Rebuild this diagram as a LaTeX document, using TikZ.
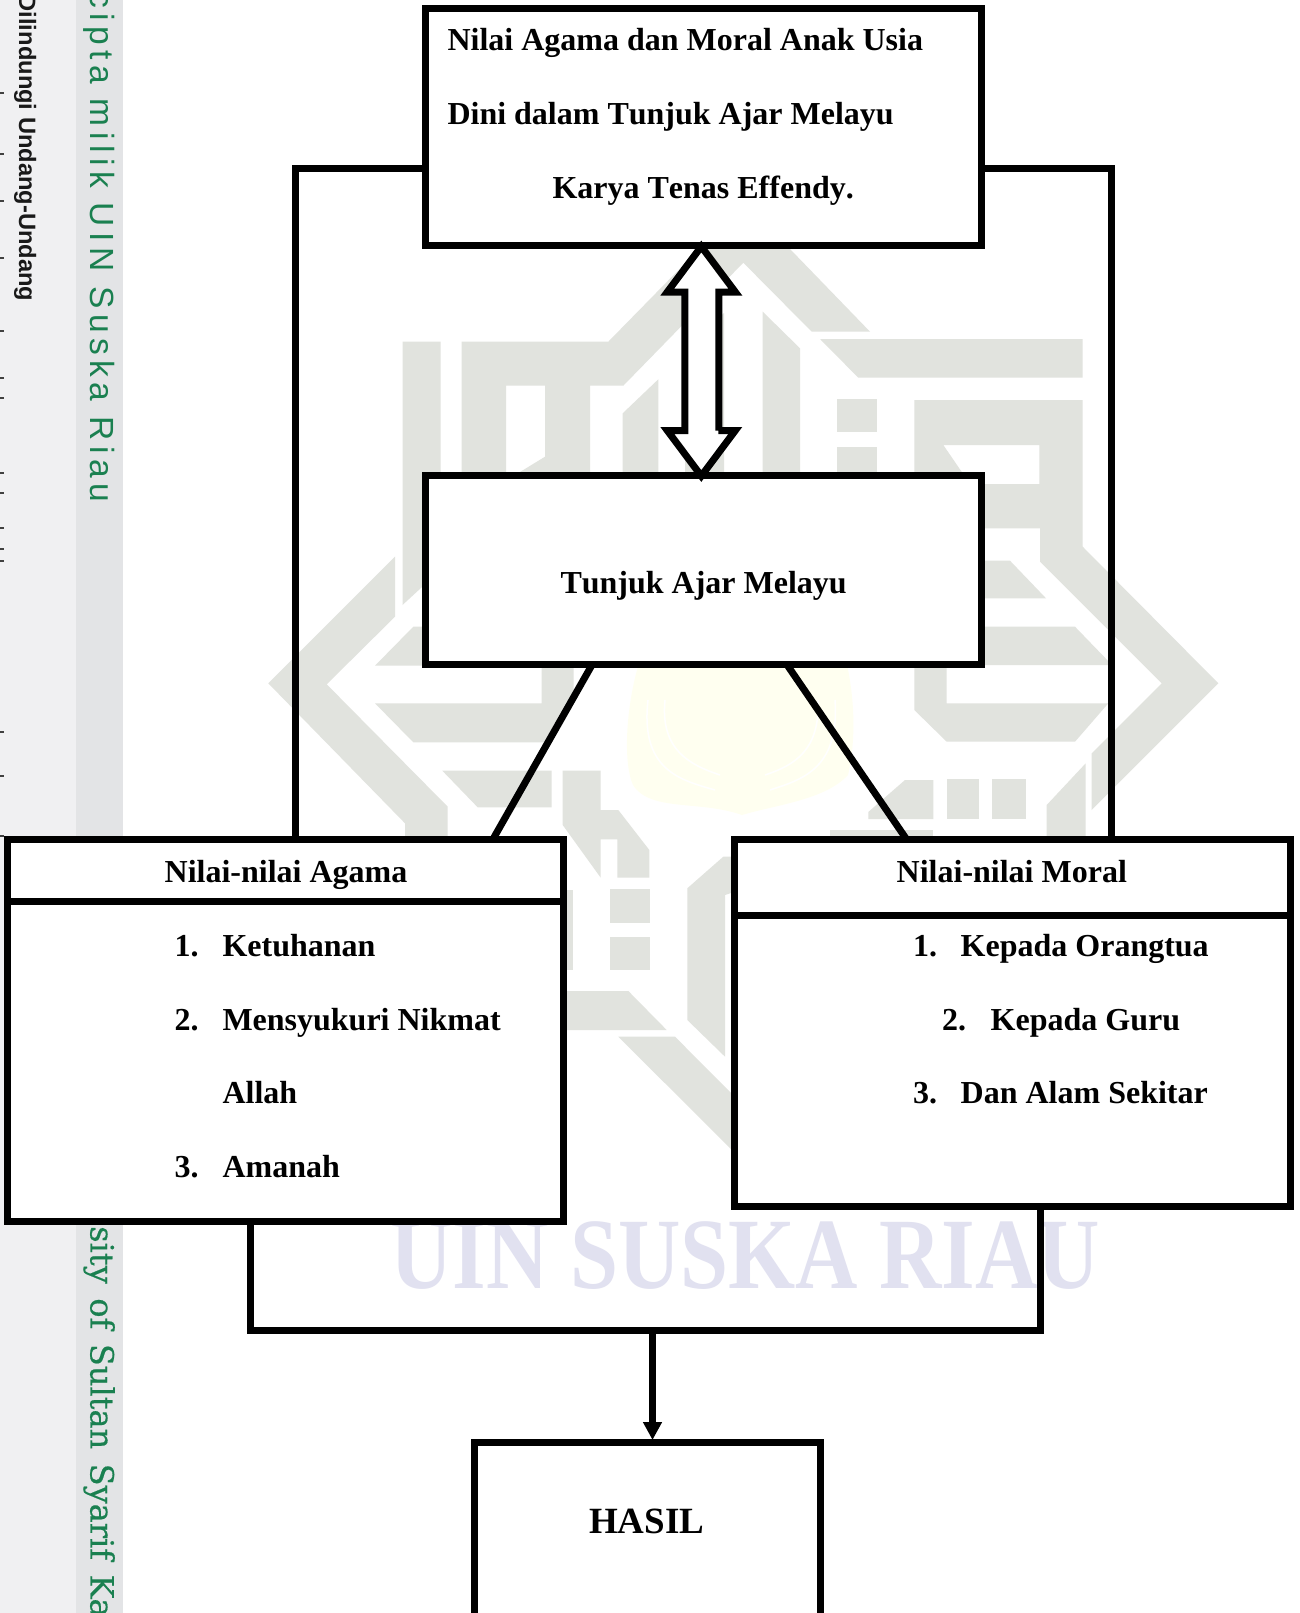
\documentclass[tikz,border=0pt]{standalone}
\usepackage{fontspec}
\setmainfont[Kerning=Off]{Liberation Serif}
\newfontfamily\wmsans{Liberation Sans}
\newfontfamily\wmserif{DejaVu Serif}
\usetikzlibrary{calc,arrows.meta}
\definecolor{wmgrey}{HTML}{E1E3DE}
\definecolor{wmyellow}{HTML}{FFFFF0}
\definecolor{wmlav}{HTML}{E1E1F0}
\definecolor{wmgreen}{HTML}{1A8050}
\definecolor{stripa}{HTML}{F0F0F2}
\definecolor{stripb}{HTML}{E3E4E6}
\tikzset{
  boxnode/.style={draw=black,fill=white,line width=7pt,inner sep=0pt,outer sep=0pt,miter limit=10},
  conn/.style={draw=black,line width=7pt,line join=miter},
  lbl/.style={anchor=base west,inner sep=0pt,outer sep=0pt,font=\fontsize{32}{36}\selectfont\bfseries},
  wm/.style={fill=wmgrey,draw=none},
}
\begin{document}
\begin{tikzpicture}[x=1pt,y=-1pt]
\clip (0,0) rectangle (1299,1613);
\useasboundingbox (0,0) rectangle (1299,1613);
\fill[white] (0,0) rectangle (1299,1613);
% side strip
\fill[stripa] (0,0) rectangle (76,1613);
\fill[stripb] (76,0) rectangle (122.5,1613);
\foreach \yy in {92,153,200,257,330,377,397,472,492,527,548,560,731,775,835}
  \fill[black!75] (0,\yy) rectangle (3.5,\yy+2);
\node[rotate=-90,anchor=base west,inner sep=0pt,font=\wmsans\bfseries\fontsize{23.7}{26}\selectfont,text=black!90] (sidea) at (19,-5.5) {Dilindungi Undang-Undang};
\node[rotate=-90,anchor=base west,inner sep=0pt,font=\wmsans\fontsize{33.5}{36}\selectfont\addfontfeature{LetterSpace=16.5},text=wmgreen] (sideb) at (90.5,-9) {cipta milik UIN Suska Riau};
\node[rotate=-90,anchor=base west,inner sep=0pt,font=\wmserif\fontsize{32}{36}\selectfont\addfontfeature{FakeBold=0.5},text=wmgreen] (sidec) at (90.5,1226) {\spaceskip=14.5pt sity of Sultan Syarif Ka};
% watermark
\fill[wm] (402.5,341.5)--(440.5,341.5)--(440.5,570)--(402.5,605)--cycle;
\fill[wm] (268.3,683.3)--(395,556.7)--(395,616.7)--(326.7,684.3)--(447.7,806.7)--(447.7,845)--(405,845)--(405,823.3)--cycle;
\fill[wm] (413.3,626.7)--(375,665.7)--(440,665.7)--(440,626.7)--cycle;
\fill[wm] (375,703.3)--(541.7,703.3)--(541.7,660)--(573.5,660)--(573.5,696)--(547,742.3)--(413.3,742.3)--cycle;
\fill[wm] (442.3,770.7)--(551.7,770.7)--(551.7,807.3)--(477.7,807.3)--cycle;
\fill[wm] (562.7,770.7)--(600.7,770.7)--(600.7,810)--(618.3,810)--(649.3,850)--(649.3,877.7)--(617.3,877.7)--(617.3,839.3)--(600.7,839.3)--(600.7,877.7)--(562.7,825)--cycle;
\fill[wm] (610,889.3) rectangle (650,922.7);
\fill[wm] (610,936.7) rectangle (650,970);
\fill[wm] (540,890) rectangle (573.3,970);
\fill[wm] (540,991)--(628.3,991)--(666.7,1030)--(540,1030)--cycle;
\fill[wm] (618.3,1036.7)--(675,1036.7)--(740,1102)--(740,1158)--cycle;
\fill[wm] (687.3,888.3)--(723.3,856.7)--(740,856.7)--(740,890)--(725,895)--(725,1056.7)--(687.3,1020)--cycle;
\fill[wm] (946.7,779.3) rectangle (979.3,819);
\fill[wm] (992.3,779.3) rectangle (1025.7,819);
\fill[wm] (905,780)--(933.3,780)--(933.3,819)--(868.3,819)--(868.3,812)--cycle;
\fill[wm] (830,830) rectangle (933.3,845);
\fill[wm] (1046.7,845)--(1046.7,805)--(1085.7,763.3)--(1085.7,845)--cycle;
\fill[wm] (914.3,400)--(1082.7,400)--(1082.7,546.7)--(1218.3,683.3)--(1091.7,810)--(1091.7,753.3)--(1161.7,683.3)--(1040,561.7)--(1040,528.3)--(975,528.3)--(975,484)--(1039.3,484)--(1039.3,445)--(943.3,445)--(970,484)--(914.3,484)--cycle;
\fill[wm] (970,560.7)--(1010,560.7)--(1046,598.3)--(970,598.3)--cycle;
\fill[wm] (970,626.7)--(1075,626.7)--(1112,665)--(970,665)--cycle;
\fill[wm] (914.3,660)--(946.7,660)--(946.7,703.3)--(1108.3,703.3)--(1075,741.7)--(946.7,741.7)--(914.3,710)--cycle;
\fill[wm] (461.7,341.7)--(608.3,341.7)--(703,245)--(790,249)--(870,331.7)--(811.7,331.7)--(743.3,262.7)--(623.3,385.7)--(590,385.7)--(590,480)--(520,480)--(520,472)--(545,456.7)--(545,385.7)--(506,385.7)--(506,480)--(461.7,480)--cycle;
\fill[wm] (622.7,413.3)--(658.3,379.3)--(658.3,480)--(622.7,480)--cycle;
\fill[wm] (685,351)--(724,313)--(724,480)--(685,480)--cycle;
\fill[wm] (762.7,311.7)--(800,348.3)--(800,480)--(762.7,480)--cycle;
\fill[wm] (820,339)--(1082.7,339)--(1082.7,377.7)--(858.3,377.7)--cycle;
\fill[wm] (837.3,399.3) rectangle (877.3,432.3);
\fill[wm] (837.3,446.7) rectangle (877.3,480);
% yellow fan
\fill[wmyellow] (640,660) .. controls (627,700) and (622,760) .. (633,785)
  .. controls (650,812) and (700,800) .. (742,815)
  .. controls (775,805) and (825,800) .. (848,775)
  .. controls (856,740) and (855,700) .. (846,660) -- cycle;
\draw[white,line width=1.5pt] (648,700) .. controls (640,770) and (680,780) .. (715,790);
\draw[white,line width=1.5pt] (665,700) .. controls (660,750) and (690,765) .. (720,775);
\draw[white,line width=1.5pt] (835,700) .. controls (840,770) and (800,780) .. (770,790);
\draw[white,line width=1.5pt] (818,700) .. controls (820,750) and (795,765) .. (765,775);
% lavender
\node[anchor=base west,inner sep=0pt,xscale=.855,font=\fontsize{101}{110}\selectfont\bfseries,text=wmlav] (wmtext) at (390,1288) {UIN SUSKA RIAU};
% frame coordinates
\coordinate (fl) at (295.5,169);
\coordinate (fr) at (1111.7,169);
\coordinate (bl) at (250,1330);
\coordinate (br) at (1040.5,1330);
\coordinate (bm) at (652.5,1330);
\coordinate (dl) at (592.5,664);
\coordinate (dr) at (786.5,664);
\coordinate (el) at (492.5,840);
\coordinate (er) at (907,840);
% boxes
\node[boxnode,minimum width=556.4pt,minimum height=237.5pt] (top) at (703.5,127.2) {};
\node[boxnode,minimum width=556.4pt,minimum height=188.3pt] (tunjuk) at (703.5,569.85) {};
\node[boxnode,minimum width=556.2pt,minimum height=381.7pt] (agama) at (285.6,1030.55) {};
\node[boxnode,minimum width=556.2pt,minimum height=366.3pt] (moral) at (1012.1,1022.85) {};
\node[boxnode,minimum width=346pt,minimum height=300pt] (hasil) at (647.5,1592) {};
% connectors
\draw[conn] (top.west |- fl) -- (fl) -- (fl |- agama.north);
\draw[conn] (top.east |- fr) -- (fr) -- (fr |- moral.north);
\draw[conn] (dl) -- (el);
\draw[conn] (dr) -- (er);
\draw[conn] (bl |- agama.south) -- (bl) -- (br) -- (br |- moral.south);
\draw[conn,-{Triangle[length=18pt,width=18pt]},shorten >=2pt] (bm) -- (bm |- hasil.north);
% dividers
\draw[conn] (agama.west |- 0,901.3) -- (agama.east |- 0,901.3);
\draw[conn] (moral.west |- 0,915.7) -- (moral.east |- 0,915.7);
% double arrow
\coordinate (dtop) at (701.3,246.5);
\coordinate (dbot) at (701.3,476);
\draw[black,fill=white,line width=7pt,line join=miter,miter limit=10]
  (dtop) -- ++(34,45.5) -- ++(-16.5,0) |- ($(dbot)+(17,-45.5)$) -- ++(17,0) -- (dbot)
  -- ++(-34,-45.5) -- ++(17.5,0) |- ($(dtop)+(-34,45.5)$) -- cycle;
% texts
\node[lbl] (t1) at (447.5,50.7) {Nilai Agama dan Moral Anak Usia};
\node[lbl] (t2) at (447.5,125) {Dini dalam Tunjuk Ajar Melayu};
\node[lbl] (t3) at (552.5,199) {Karya Tenas Effendy.};
\node[lbl] (t4) at (560.5,593) {Tunjuk Ajar Melayu};
\node[lbl] (t5) at (164.7,882) {Nilai-nilai Agama};
\node[lbl] (t6) at (896.7,882) {Nilai-nilai Moral};
\node[lbl] (a1n) at (174.6,956.5) {1.};
\node[lbl] (a1) at (222.5,956.5) {Ketuhanan};
\node[lbl] (a2n) at (174.6,1030) {2.};
\node[lbl] (a2) at (222.5,1030) {Mensyukuri Nikmat};
\node[lbl] (a2b) at (222.5,1103) {Allah};
\node[lbl] (a3n) at (174.6,1177) {3.};
\node[lbl] (a3) at (222.5,1177) {Amanah};
\node[lbl] (m1n) at (913,956.5) {1.};
\node[lbl] (m1) at (960.7,956.5) {Kepada Orangtua};
\node[lbl] (m2n) at (942,1030) {2.};
\node[lbl] (m2) at (990.7,1030) {Kepada Guru};
\node[lbl] (m3n) at (913,1103.7) {3.};
\node[lbl] (m3) at (960.7,1103.7) {Dan Alam Sekitar};
\node[lbl,font=\fontsize{37}{40}\selectfont\bfseries] (t7) at (589,1533.5) {HASIL};
\end{tikzpicture}
\end{document}
